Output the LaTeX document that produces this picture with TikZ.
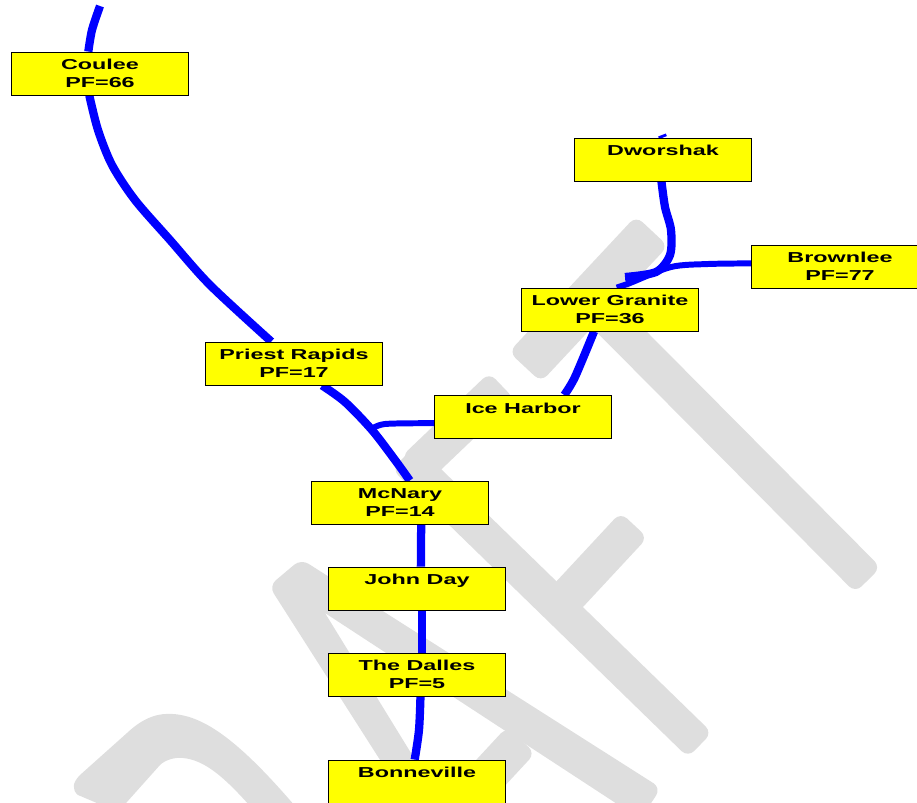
\documentclass[tikz,border=0pt]{standalone}
\usepackage{fontspec}
\usetikzlibrary{calc,backgrounds}
\newfontfamily\damfont{Liberation Sans}[FakeStretch=1.62]
\definecolor{wmgray}{HTML}{DEDEDE}
\definecolor{damyellow}{HTML}{FFFF00}
\definecolor{riverblue}{HTML}{0000FF}
\tikzset{
 dam/.style={draw=black, fill=damyellow, line width=.5pt, inner sep=0pt, align=center,
   minimum width=3.54cm, minimum height=.86cm,
   font=\damfont\bfseries\fontsize{8.2}{10.2}\selectfont},
 river/.style={riverblue, line width=4.7pt},
 branch/.style={riverblue, line width=3.4pt},
 wmbar/.style={wmgray, rounded corners=5pt}
}
\begin{document}
\begin{tikzpicture}[x=.02cm, y=-.02cm]
\useasboundingbox (0,0) rectangle (917,802);
% DRAFT watermark
\begin{scope}[on background layer]
\foreach \xa/\ya/\xb/\yb/\h in {525/367/652/231/12.5, 590/300/868/580/10.2,
   414/470/502/386/10.5, 404/457/700/745/9.8, 555/610/634/525/10.5,
   470/795/521/740/11} {
 \fill[wmbar] ($(\xa,\ya)!\h pt!90:(\xb,\yb)$) -- ($(\xa,\ya)!\h pt!-90:(\xb,\yb)$)
   -- ($(\xb,\yb)!\h pt!90:(\xa,\ya)$) -- ($(\xb,\yb)!\h pt!-90:(\xa,\ya)$) -- cycle;
}
\fill[wmbar] (269,586) -- (301,559) -- (661,788) -- (636,826) -- (634,815)
   [sharp corners] -- (325,613) [rounded corners=5pt] -- (446,810) -- (412,810) -- cycle;
\fill[wmgray] (80,775) -- (127,733) .. controls (145,716) and (160,713) .. (173,714)
   .. controls (205,716) and (240,742) .. (295,806) -- (250,806)
   .. controls (225,778) and (205,760) .. (183,758)
   .. controls (175,757) and (165,760) .. (160,765) -- (118,812) -- (78,795)
   .. controls (72,790) and (72,783) .. (80,775) -- cycle;
\end{scope}
% dams
\node[dam] (coulee) at (100,73.5) {Coulee\\PF=66};
\node[dam] (priest) at (294,363.5) {Priest Rapids\\PF=17};
\node[dam] (iceharbor) at (523,417) {Ice Harbor\\\mbox{}};
\node[dam] (mcnary) at (400,502.5) {McNary\\PF=14};
\node[dam] (johnday) at (417,588.5) {John Day\\\mbox{}};
\node[dam] (dalles) at (417,674.5) {The Dalles\\PF=5};
\node[dam] (bonneville) at (417,781.5) {Bonneville\\\mbox{}};
\node[dam] (granite) at (610,309.5) {Lower Granite\\PF=36};
\node[dam] (dworshak) at (663,159.5) {Dworshak\\\mbox{}};
\node[dam] (brownlee) at (840,266.5) {Brownlee\\PF=77};
\coordinate (coulee top) at (100,6);
\coordinate (dworshak top) at (662,135);
\coordinate (junction) at (370,430);
\coordinate (stub) at (625,277);
% rivers
\begin{scope}[on background layer]
\draw[river] plot[smooth] coordinates {(coulee top) (92,30) (coulee.118)};
\draw[river] plot[smooth] coordinates {(coulee.244) (98,130) (112,165) (135,200) (170,240) (210,285) (priest.136)};
\draw[river] plot[smooth] coordinates {(priest.-38) (345,402) (372,430) (395,460) (mcnary.66)};
\draw[branch] plot[smooth] coordinates {(iceharbor.184.5) (385,424) (junction)};
\draw[river] (mcnary.-46) -- (johnday.80.5);
\draw[river] (johnday.-78) -- (dalles.78);
\draw[river] plot[smooth] coordinates {(dalles.-81) (419,730) (bonneville.96.6)};
\draw[river] plot[smooth] coordinates {(iceharbor.28.6) (575,377) (granite.234)};
\draw[branch] plot[smooth] coordinates {(brownlee.178.4) (708,264) (671,267) (630,283) (granite.73)};
\draw[river] plot[smooth] coordinates {(dworshak.266) (665,207) (671,230) (670,255) (656,272) (stub)};
\draw[river] (dworshak top) -- (dworshak.90);
\end{scope}
\end{tikzpicture}
\end{document}
